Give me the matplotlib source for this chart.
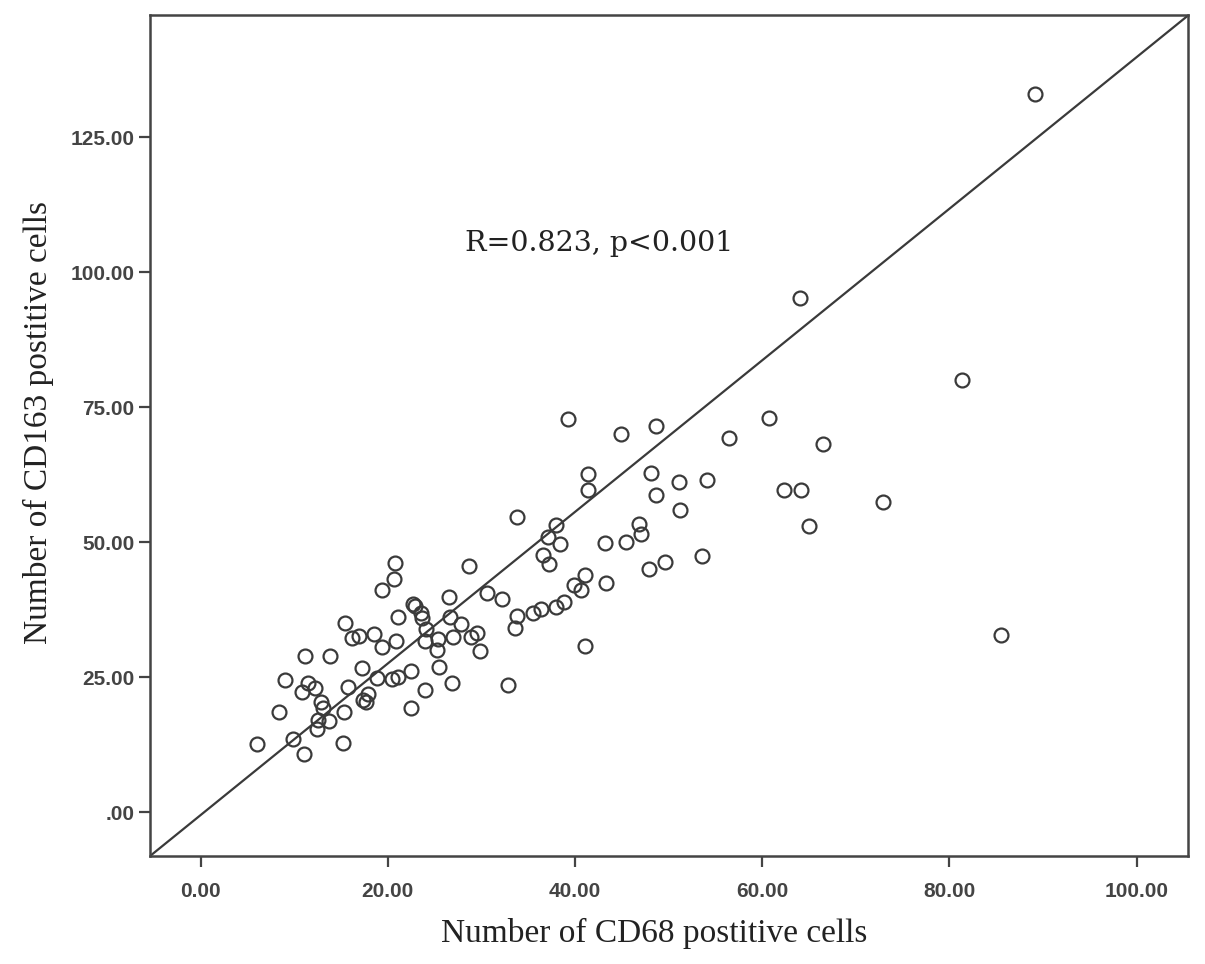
import numpy as np
import matplotlib.pyplot as plt

# CD68 (x) vs CD163 (y)
cd68 = [33.8, 20.8, 20.7, 19.4, 28.7, 22.7, 22.9, 23.6, 23.7, 26.5,
        30.6, 32.2, 33.8, 33.6, 35.5, 21.1, 15.4, 16.2, 16.9, 18.5,
        19.4, 20.9, 26.6, 27.8, 24.1, 24.0, 25.4, 25.3, 27.0, 28.9,
        29.5, 29.8, 25.5, 26.9, 24.0, 22.5, 22.5, 32.8, 20.5, 21.1,
        18.9, 17.2, 15.7, 17.3, 17.9, 17.7, 15.3, 15.2, 13.8, 11.2,
        9.0, 11.5, 10.8, 12.2, 12.9, 13.1, 12.5, 12.4, 13.7, 8.4,
        9.9, 11.0, 6.0,
        39.3, 44.9, 48.7, 60.7, 56.4, 66.5, 41.4, 41.4, 48.1, 51.1,
        54.1, 48.7, 51.2, 62.3, 64.1, 65.0, 38.0, 37.1, 38.4, 36.6,
        37.2, 43.2, 45.5, 46.8, 47.0, 41.1, 39.9, 40.6, 43.3, 47.9,
        49.6, 53.6, 36.4, 38.0, 38.8, 41.1,
        89.1, 64.0, 81.3, 72.9, 85.5]
cd163 = [54.6, 46.2, 43.1, 41.1, 45.6, 38.6, 38.1, 36.8, 35.9, 39.9,
         40.5, 39.5, 36.3, 34.1, 36.8, 36.1, 35.0, 32.3, 32.6, 32.9,
         30.6, 31.7, 36.2, 34.9, 34.0, 31.7, 32.1, 30.0, 32.4, 32.4,
         33.1, 29.9, 26.9, 23.9, 22.6, 26.2, 19.2, 23.5, 24.7, 25.0,
         24.8, 26.7, 23.1, 20.8, 21.9, 20.4, 18.5, 12.8, 28.9, 28.9,
         24.5, 23.9, 22.3, 22.9, 20.4, 19.2, 17.0, 15.3, 16.9, 18.6,
         13.5, 10.8, 12.7,
         72.8, 70.1, 71.5, 73.1, 69.3, 68.1, 62.7, 59.7, 62.8, 61.2,
         61.6, 58.7, 56.0, 59.6, 59.7, 53.0, 53.1, 51.0, 49.7, 47.7,
         46.0, 49.9, 50.0, 53.4, 51.6, 44.0, 42.0, 41.1, 42.5, 45.1,
         46.3, 47.5, 37.7, 38.0, 38.9, 30.7,
         133.1, 95.2, 80.0, 57.4, 32.8]

xticks = [0, 20, 40, 60, 80, 100]
xlabels = ['0.00', '20.00', '40.00', '60.00', '80.00', '100.00']
yticks = [0, 25, 50, 75, 100, 125]
ylabels = ['.00', '25.00', '50.00', '75.00', '100.00', '125.00']

fig = plt.figure(figsize=(12.05, 9.64), dpi=100)
ax = fig.add_axes([0.1245, 0.112, 0.8615, 0.872])

ax.plot(cd68, cd163, 'o', ms=10, mfc='none', mec='#3a3a3a', mew=1.6, ls='none')
# diagonal line corner to corner
ax.plot([0, 1], [0, 1], transform=ax.transAxes, color='#3a3a3a', lw=1.6)

ax.set_xlim(-5.4, 105.5)
ax.set_ylim(-8.15, 147.6)

ax.set_xticks(xticks)
ax.set_xticklabels(xlabels)
ax.set_yticks(yticks)
ax.set_yticklabels(ylabels)
ax.tick_params(direction='out', length=8, width=1.6, color='#444444',
               labelsize=15, labelcolor='#444444')
ax.tick_params(axis='x', pad=11)
ax.tick_params(axis='y', pad=3)
for lab in ax.get_xticklabels() + ax.get_yticklabels():
    lab.set_family('Liberation Sans')
    lab.set_fontweight('bold')
for s in ax.spines.values():
    s.set_linewidth(1.8)
    s.set_color('#444444')

ax.set_xlabel('Number of CD68 postitive cells', family='Liberation Serif',
              fontsize=24, labelpad=12, color='#222222')
ax.set_ylabel('Number of CD163 postitive cells', family='Liberation Serif',
              fontsize=24, labelpad=12, color='#222222')
ax.xaxis.label.set_x(0.486)
ax.yaxis.label.set_y(0.516)

ax.text(28.3, 105.4, 'R=0.823, p<0.001', family='DejaVu Serif', fontsize=20.5,
        ha='left', va='center', color='#222222')

plt.savefig('out.png', dpi=100)
